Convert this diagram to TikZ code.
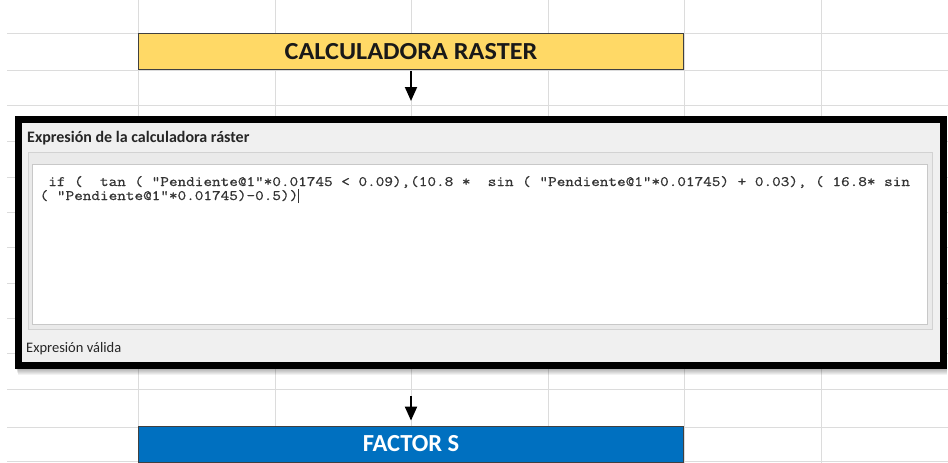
\documentclass[tikz,border=0pt]{standalone}
\usepackage{fontspec}
\usepackage{graphicx}
\setmainfont{Carlito}
\newfontfamily\codefamily[FakeBold=0.6]{Latin Modern Mono}
\usetikzlibrary{arrows.meta}

\definecolor{gridline}{HTML}{DCDCDC}
\definecolor{calcyellow}{HTML}{FFD966}
\definecolor{factorblue}{HTML}{0070C0}
\definecolor{panelgray}{HTML}{F0F0F0}
\definecolor{groupgray}{HTML}{EAEAEA}
\definecolor{groupline}{HTML}{D2D2D2}
\definecolor{fieldline}{HTML}{C8C8C8}
\definecolor{codeink}{HTML}{333333}

\tikzset{
  headbox/.style={draw=black!75, line width=0.8pt, minimum width=545pt,
    minimum height=36pt, inner sep=0pt,
    font=\bfseries\fontsize{24.5}{24.5}\selectfont},
  flow/.style={line width=2pt, -{Triangle[length=14pt, width=12pt]}},
  panelframe/.style={draw=black, line width=7pt, fill=panelgray,
    minimum width=925pt, minimum height=246pt, inner sep=0pt},
  codeline/.style={anchor=base west, inner sep=0pt, text=codeink,
    font=\codefamily\frenchspacing\fontsize{14.4}{16}\selectfont},
  uitext/.style={anchor=base west, inner sep=0pt, text=black!85}
}

\newcommand{\codetext}[1]{\scalebox{1.162}[1]{#1}}

\begin{document}
\begin{tikzpicture}[x=1pt, y=-1pt]
  \useasboundingbox (0,0) rectangle (948,463);
  \fill[white] (0,0) rectangle (948,463);

  % spreadsheet grid in the background
  \foreach \gy in {33,70,105,141,177,212,247,283,318,353,389,427,461}
    \draw[gridline, line width=0.8pt] (7,\gy) -- (948,\gy);
  \foreach \gx in {138,275,411,548,684,821}
    \draw[gridline, line width=0.8pt] (\gx,0) -- (\gx,463);

  % title bars
  \node[headbox, fill=calcyellow, text=black!90] (calc) at (411,51.5)
    {\scalebox{1.07}[1]{CALCULADORA RASTER}};
  \node[headbox, fill=factorblue, text=white] (factor) at (411,444) {FACTOR S};

  % soft shadow under the dialog
  \foreach \s in {1,...,8}
    \fill[black, opacity=0.05] (15+0.4*\s,125) rectangle (947,367+\s);

  % dialog window
  \node[panelframe] (panel) at (481,242.5) {};
  \fill[groupgray, draw=groupline, line width=0.8pt] (28,152) rectangle (932,329);
  \fill[white, draw=fieldline, line width=0.8pt] (32,164) rectangle (927,324);

  \node[uitext, font=\bfseries\fontsize{16}{18}\selectfont] (paneltitle) at (27,142)
    {Expresión de la calculadora ráster};

  \node[codeline] (code1) at (48.1,186)
    {\codetext{if (~~tan ( "Pendiente@1"*0.01745 < 0.09),(10.8 *~~sin ( "Pendiente@1"*0.01745) + 0.03), ( 16.8* sin}};
  \node[codeline] (code2) at (39.5,200)
    {\codetext{( "Pendiente@1"*0.01745)-0.5))}\rule[-3pt]{1pt}{14pt}};

  \node[uitext, font=\fontsize{14.5}{16}\selectfont] (status) at (26,352) {Expresión válida};

  % connectors
  \draw[flow, shorten >=15pt, shorten <=1pt] (calc.south) -- (calc.south |- panel.north);
  \draw[flow, shorten <=27pt, shorten >=5pt] (factor.north |- panel.south) -- (factor.north);
\end{tikzpicture}
\end{document}
